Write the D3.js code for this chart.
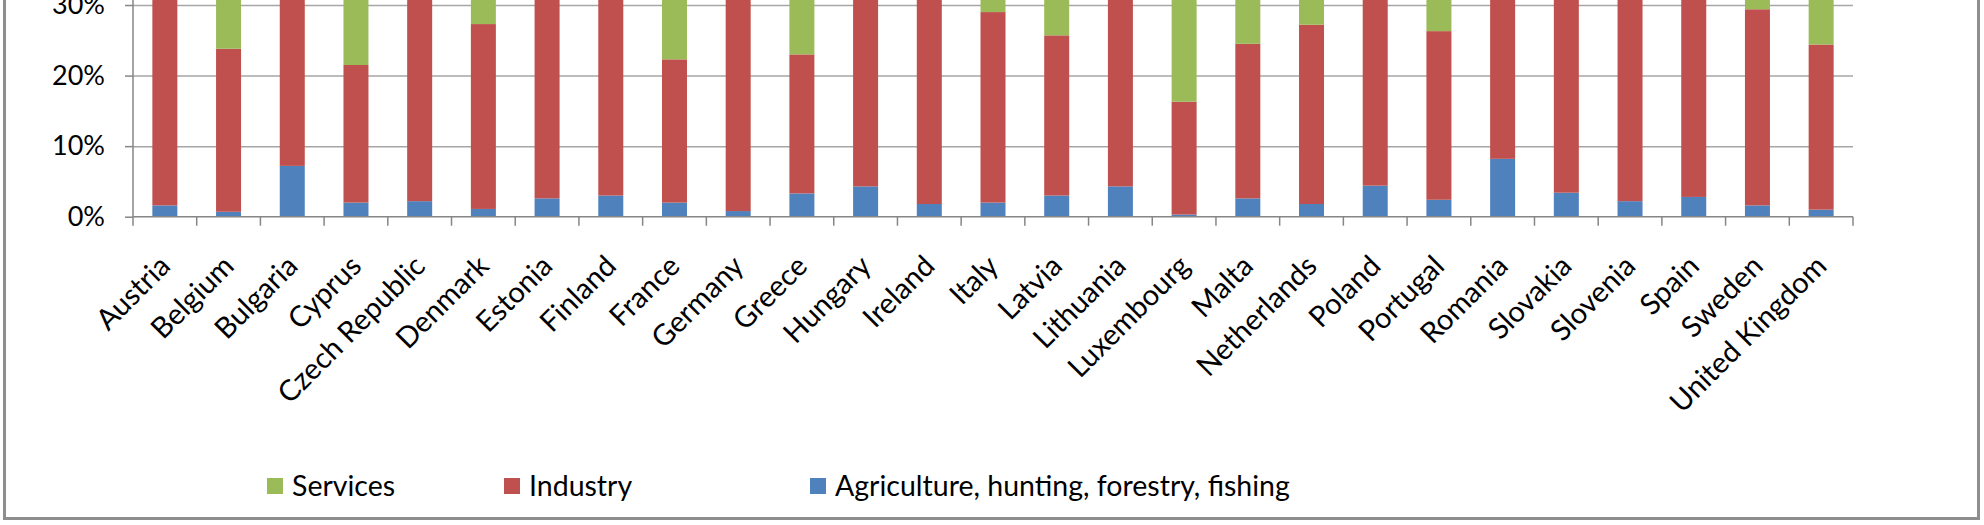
<!DOCTYPE html>
<html>
<head>
<meta charset="utf-8">
<script src="https://cdn.jsdelivr.net/npm/d3@7"></script>
<style>
  body { margin: 0; background: #fff; }
  text { font-family: Lato, "Open Sans", sans-serif; fill: #000; }
</style>
</head>
<body>
<div class="chart"></div>
<script>
var countries = ["Austria", "Belgium", "Bulgaria", "Cyprus", "Czech Republic", "Denmark", "Estonia",
  "Finland", "France", "Germany", "Greece", "Hungary", "Ireland", "Italy", "Latvia", "Lithuania",
  "Luxembourg", "Malta", "Netherlands", "Poland", "Portugal", "Romania", "Slovakia", "Slovenia",
  "Spain", "Sweden", "United Kingdom"];

// shares of gross value added, %
var agriculture = [1.6, 0.7, 7.2, 2.0, 2.2, 1.1, 2.6, 3.0, 2.0, 0.8, 3.3, 4.3, 1.8, 2.0, 3.0, 4.3,
  0.3, 2.6, 1.8, 4.4, 2.4, 8.2, 3.4, 2.2, 2.8, 1.6, 1.0];
var industry = [30.6, 23.1, 31.5, 19.5, 37.5, 26.2, 29.0, 32.0, 20.3, 30.5, 19.7, 29.5, 31.5, 27.0,
  22.7, 30.5, 16.0, 21.9, 25.4, 31.0, 23.9, 35.0, 37.5, 34.5, 29.5, 27.8, 23.4];
var services = [67.8, 76.2, 61.3, 78.5, 60.3, 72.7, 68.4, 65.0, 77.7, 68.7, 77.0, 66.2, 66.7, 71.0,
  74.3, 65.2, 83.7, 75.5, 72.8, 64.6, 73.7, 56.8, 59.1, 63.3, 67.7, 70.6, 75.6];

var seriesNames = ["Agriculture, hunting, forestry, fishing", "Industry", "Services"];
var seriesKeys = ["agriculture", "industry", "services"];
var colors = { agriculture: "#4F81BD", industry: "#C0504D", services: "#9BBB59" };
// only the lower part of the 0-100% axis is in view
var yTicks = [0, 0.1, 0.2, 0.3];

var svgWidth = 1984;
var svgHeight = 525;

var data = countries.map(function(c, i) {
  return { country: c, agriculture: agriculture[i], industry: industry[i], services: services[i] };
});

var svg = d3.select(".chart")
  .append("svg")
  .attr("width", svgWidth)
  .attr("height", svgHeight)
  .style("display", "block");

// chart frame (top part of the chart is cut off in the picture)
svg.append("rect")
  .attr("x", 4.5)
  .attr("y", -20)
  .attr("width", 1974)
  .attr("height", 538.5)
  .attr("fill", "#fff")
  .attr("stroke", "#8e8e8e")
  .attr("stroke-width", 3);

// plot area: baseline at 216.7, 10% = 70.56px
var x0 = 133, x1 = 1853, y0 = 216.7;
var xScale = d3.scaleBand().domain(countries).range([x0, x1]).padding(0);
var yScale = d3.scaleLinear().domain([0, 1]).range([y0, y0 - 705.6]);

var chart = svg.append("g");

// gridlines
chart.append("g")
  .attr("transform", "translate(" + x0 + ",0)")
  .call(d3.axisLeft(yScale).tickValues(yTicks.slice(1)).tickSize(-(x1 - x0)).tickFormat(""))
  .call(function(g) {
    g.select(".domain").remove();
    g.selectAll("line").attr("stroke", "#a6a6a6").attr("stroke-width", 1.5);
  });

// stacked bars
var stack = d3.stack().keys(seriesKeys).offset(d3.stackOffsetExpand);
var stacked = stack(data);
var barW = 25;

chart.selectAll(".series")
  .data(stacked)
  .enter()
  .append("g")
  .attr("class", "series")
  .attr("fill", function(d) { return colors[d.key]; })
  .selectAll("rect")
  .data(function(d) { return d; })
  .enter()
  .append("rect")
  .attr("x", function(d) { return xScale(d.data.country) + xScale.bandwidth() / 2 - barW / 2; })
  .attr("width", barW)
  .attr("y", function(d) { return yScale(d[1]); })
  .attr("height", function(d) { return yScale(d[0]) - yScale(d[1]); });

// y axis line runs up past the top of the view
chart.append("line")
  .attr("x1", x0).attr("x2", x0)
  .attr("y1", y0).attr("y2", -10)
  .attr("stroke", "#868686").attr("stroke-width", 1.5);

chart.append("g")
  .attr("transform", "translate(" + x0 + ",0)")
  .call(d3.axisLeft(yScale).tickValues(yTicks).tickSize(8).tickPadding(20).tickFormat(d3.format(".0%")))
  .call(function(g) {
    g.select(".domain").remove();
    g.selectAll("line").attr("stroke", "#868686").attr("stroke-width", 1.5);
    g.selectAll("text").style("font-size", "27px").attr("fill", "#000");
  });

// x axis with ticks between categories
var boundaries = countries.map(function(c) { return xScale(c); }).concat([x1]);
var xAxis = chart.append("g");
xAxis.append("line")
  .attr("x1", x0).attr("x2", x1)
  .attr("y1", y0).attr("y2", y0)
  .attr("stroke", "#868686").attr("stroke-width", 1.5);
xAxis.selectAll(".tick")
  .data(boundaries)
  .enter()
  .append("line")
  .attr("x1", function(d) { return d; }).attr("x2", function(d) { return d; })
  .attr("y1", y0).attr("y2", y0 + 9)
  .attr("stroke", "#868686").attr("stroke-width", 1.5);

xAxis.selectAll(".label")
  .data(countries)
  .enter()
  .append("text")
  .attr("transform", function(d) {
    return "translate(" + (xScale(d) + xScale.bandwidth() / 2) + "," + (y0 + 44) + ") rotate(-45)";
  })
  .attr("text-anchor", "end")
  .attr("dy", "0.35em")
  .style("font-size", "29px")
  .text(function(d) { return d; });

// legend
var legendItems = [
  { key: "services", name: seriesNames[2], x: 267 },
  { key: "industry", name: seriesNames[1], x: 504 },
  { key: "agriculture", name: seriesNames[0], x: 810 }
];
var legend = svg.append("g");
var item = legend.selectAll("g")
  .data(legendItems)
  .enter()
  .append("g")
  .attr("transform", function(d) { return "translate(" + d.x + ",478)"; });
item.append("rect")
  .attr("width", 16).attr("height", 16)
  .attr("fill", function(d) { return colors[d.key]; });
item.append("text")
  .attr("x", 25)
  .attr("y", 8)
  .attr("dy", "0.35em")
  .style("font-size", "28.5px")
  .text(function(d) { return d.name; });
</script>
</body>
</html>
